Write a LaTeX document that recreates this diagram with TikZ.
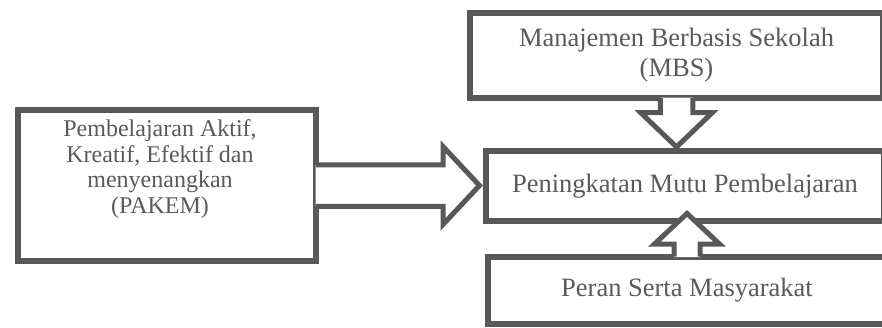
\documentclass[tikz,border=0pt]{standalone}
\usepackage{fontspec}
\setmainfont{Liberation Serif}
\definecolor{linegray}{RGB}{88,88,88}
\definecolor{textgray}{RGB}{90,90,90}
\tikzset{
	box/.style={draw=linegray, line width=6pt, fill=white, rectangle, inner sep=0pt,
		text=textgray, font=\fontsize{26.5}{30}\selectfont, align=center},
	arrowline/.style={draw=linegray, line width=5pt, line join=miter},
}
\newcommand{\drawblockarrow}[6]{
	% #1 base, #2 angle, #3 stem length, #4 stem half width, #5 head half width, #6 head length
	\begin{scope}[shift={(#1)}, rotate=#2]
		\fill[white] (-3.5,#4) -- (#3,#4) -- (#3,#5) -- (#3+#6,0) -- (#3,-#5) -- (#3,-#4) -- (-3.5,-#4) -- cycle;
		\draw[arrowline] (-3,#4) -- (#3,#4) -- (#3,#5) -- (#3+#6,0) -- (#3,-#5) -- (#3,-#4) -- (-3,-#4);
	\end{scope}
}

\begin{document}
\begin{tikzpicture}[x=1pt,y=-1pt]
	\useasboundingbox (0,0) rectangle (882,327);
	\clip (0,0) rectangle (882,327);
	\node[box, minimum width=413, minimum height=85] (mbs) at (676.5,55.5) {Manajemen Berbasis Sekolah\\(MBS)};
	\node[box, minimum width=398, minimum height=70.5] (mutu) at (685,186) {Peningkatan Mutu Pembelajaran};
	\node[box, minimum width=399, minimum height=67] (peran) at (687,290) {Peran Serta Masyarakat};
	\node[box, minimum width=298, minimum height=151] (pakem) at (167,185.5) {};
	\node[text=textgray, font=\fontsize{24}{25.5}\selectfont, align=center] (pakemtext) at (160,169)
		{Pembelajaran Aktif,\\Kreatif, Efektif dan\\menyenangkan\\(PAKEM)};
	\drawblockarrow{pakem.east}{0}{124}{20.75}{39}{36.5}
	\drawblockarrow{mbs.south}{-90}{11.5}{16.25}{36}{34.5}
	\drawblockarrow{peran.north}{90}{9.5}{13}{32.5}{30.5}
\end{tikzpicture}
\end{document}
